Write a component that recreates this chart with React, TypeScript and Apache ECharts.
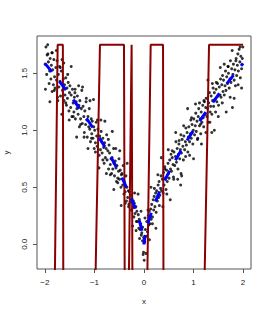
import React, { useEffect, useRef } from "react";
import * as echarts from "echarts";

const xTicks = [-2, -1, 0, 1, 2];
const yTicks = [0, 0.5, 1, 1.5];

// true curve (blue dashed)
const truthX = [-2, -1.9, -1.8, -1.7, -1.6, -1.5, -1.4, -1.3, -1.2, -1.1, -1, -0.9, -0.8, -0.7, -0.6, -0.5, -0.4, -0.3, -0.2, -0.1, -0.05, -0.02, 0, 0.02, 0.05, 0.1, 0.2, 0.3, 0.4, 0.5, 0.6, 0.7, 0.8, 0.9, 1, 1.1, 1.2, 1.3, 1.4, 1.5, 1.6, 1.7, 1.8, 1.9, 2];
const truthY = [1.587, 1.534, 1.48, 1.424, 1.368, 1.31, 1.251, 1.191, 1.129, 1.066, 1.0, 0.932, 0.862, 0.788, 0.711, 0.63, 0.543, 0.448, 0.342, 0.215, 0.136, 0.074, 0, 0.074, 0.136, 0.215, 0.342, 0.448, 0.543, 0.63, 0.711, 0.788, 0.862, 0.932, 1.0, 1.066, 1.129, 1.191, 1.251, 1.31, 1.368, 1.424, 1.48, 1.534, 1.587];

// fitted step curve (dark red)
const fitX = [-2.0, -1.803, -1.743, -1.638, -1.629, -0.984, -0.889, -0.404, -0.389, -0.308, -0.25, -0.233, 0.063, 0.135, 0.384, 0.393, 1.218, 1.313, 2.0];
const fitY = [-0.4, -0.4, 1.75, 1.75, -0.4, -0.4, 1.75, 1.75, -0.4, -0.4, 1.75, -0.4, -0.4, 1.75, 1.75, -0.4, -0.4, 1.75, 1.75];

// observations
const obsX = [
  -1.995, -1.98, -1.965, -1.955, -1.945, -1.93, -1.915, -1.905, -1.895, -1.88, -1.87, -1.855, -1.852,
  -1.845, -1.83, -1.82, -1.805, -1.795, -1.78, -1.765, -1.755, -1.745, -1.73, -1.72, -1.705,
  -1.695, -1.685, -1.67, -1.655, -1.645, -1.63, -1.615, -1.605, -1.595, -1.58, -1.565, -1.555,
  -1.545, -1.53, -1.515, -1.505, -1.495, -1.48, -1.47, -1.455, -1.445, -1.43, -1.415, -1.405,
  -1.395, -1.385, -1.37, -1.355, -1.345, -1.33, -1.315, -1.305, -1.295, -1.28, -1.265, -1.255,
  -1.245, -1.23, -1.215, -1.205, -1.195, -1.18, -1.165, -1.155, -1.145, -1.13, -1.115, -1.105,
  -1.095, -1.08, -1.065, -1.055, -1.045, -1.03, -1.015, -1.005, -0.995, -0.98, -0.965, -0.955,
  -0.945, -0.93, -0.915, -0.905, -0.895, -0.88, -0.865, -0.855, -0.845, -0.83, -0.815, -0.805,
  -0.795, -0.78, -0.765, -0.755, -0.745, -0.73, -0.715, -0.705, -0.695, -0.68, -0.665, -0.655,
  -0.645, -0.63, -0.615, -0.605, -0.595, -0.58, -0.565, -0.555, -0.545, -0.53, -0.515, -0.505,
  -0.495, -0.48, -0.465, -0.455, -0.445, -0.43, -0.415, -0.405, -0.395, -0.38, -0.365, -0.355,
  -0.345, -0.33, -0.315, -0.305, -0.295, -0.28, -0.265, -0.255, -0.245, -0.23, -0.215, -0.205,
  -0.195, -0.18, -0.165, -0.155, -0.145, -0.13, -0.115, -0.105, -0.095, -0.08, -0.065, -0.055,
  -0.045, -0.03, -0.018, -0.008, 0.004, 0.015, 0.028, 0.042,
  0.055, 0.07, 0.085, 0.095, 0.105, 0.12, 0.135, 0.145, 0.155, 0.17, 0.185, 0.195,
  0.205, 0.22, 0.235, 0.245, 0.255, 0.27, 0.285, 0.295, 0.305, 0.32, 0.335, 0.345,
  0.355, 0.37, 0.385, 0.395, 0.405, 0.42, 0.435, 0.445, 0.455, 0.47, 0.485, 0.495,
  0.505, 0.52, 0.535, 0.545, 0.555, 0.57, 0.585, 0.595, 0.605, 0.62, 0.635, 0.645,
  0.655, 0.67, 0.685, 0.695, 0.705, 0.72, 0.735, 0.745, 0.74, 0.748,
  0.755, 0.77, 0.785, 0.795, 0.805, 0.82, 0.835, 0.845, 0.855, 0.87, 0.885, 0.895,
  0.905, 0.92, 0.935, 0.945, 0.955, 0.97, 0.985, 0.995, 1.005, 1.02, 1.035, 1.045,
  1.055, 1.07, 1.085, 1.095, 1.105, 1.12, 1.135, 1.145, 1.155, 1.17, 1.185, 1.195,
  1.205, 1.22, 1.235, 1.245, 1.255, 1.27, 1.285, 1.295, 1.305, 1.32, 1.335, 1.345,
  1.355, 1.37, 1.385, 1.395, 1.405, 1.42, 1.435, 1.445, 1.455, 1.47, 1.485, 1.495,
  1.505, 1.52, 1.535, 1.545, 1.555, 1.57, 1.585, 1.595, 1.605, 1.62, 1.635, 1.645,
  1.655, 1.67, 1.685, 1.695, 1.705, 1.72, 1.735, 1.745, 1.755, 1.77, 1.785, 1.795,
  1.805, 1.82, 1.835, 1.845, 1.855, 1.87, 1.885, 1.895, 1.905, 1.92, 1.935, 1.945,
  1.955, 1.97, 1.985, 1.995, 1.145, 1.368,
  -1.99, -1.94, -1.9, -1.86, -1.81, -1.77, -1.74, -1.69, -1.66, -1.62, -1.58, -1.54, -1.51, -1.47,
  -1.43, -1.39, -1.36, -1.32, -1.28, -1.24, -1.21, -1.17, -1.13, -1.09, -1.06, -1.02, -0.98, -0.94,
  -0.91, -0.87, -0.83, -0.79, -0.76, -0.72, -0.68, -0.64, -0.61, -0.57, -0.53, -0.49, -0.46, -0.42,
  -0.38, -0.34, -0.31, -0.27, -0.23, -0.19, -0.16, -0.12, -0.09, -0.06, -0.03, -0.01,
  0.02, 0.04, 0.08, 0.11, 0.14, 0.17, 0.21, 0.24, 0.28, 0.31, 0.35, 0.38, 0.42, 0.46,
  0.49, 0.53, 0.57, 0.6, 0.64, 0.68, 0.71, 0.76, 0.8, 0.84, 0.88, 0.92, 0.96, 1.0,
  1.04, 1.08, 1.12, 1.16, 1.21, 1.25, 1.29, 1.33, 1.38, 1.42, 1.46, 1.5, 1.54, 1.58,
  1.62, 1.66, 1.7, 1.74, 1.78, 1.82, 1.86, 1.9, 1.94, 1.97,
];
const obsY = [
  1.58, 1.73, 1.49, 1.66, 1.75, 1.6, 1.41, 1.52, 1.63, 1.45, 1.57, 1.34, 1.68,
  1.53, 1.4, 1.62, 1.47, 1.37, 1.55, 1.44, 1.61, 1.29, 1.49, 1.38, 1.56,
  1.43, 1.3, 1.52, 1.62, 1.35, 1.45, 1.26, 1.4, 1.31, 1.46, 1.22, 1.37,
  1.28, 1.42, 1.17, 1.33, 1.39, 1.2, 1.31, 1.12, 1.36, 1.24, 1.16, 1.29,
  1.33, 1.1, 1.25, 1.19, 1.3, 1.14, 1.22, 1.03, 1.26, 1.1, 1.19, 1.35,
  1.06, 1.21, 1.12, 0.98, 1.17, 1.05, 1.28, 1.09, 0.94, 1.12, 1.03, 1.19,
  1.01, 0.9, 1.1, 0.97, 1.08, 0.93, 1.03, 0.84, 1.0, 0.89, 1.07, 0.95,
  0.86, 1.01, 0.92, 0.78, 0.95, 0.83, 0.99, 0.9, 0.8, 0.93, 0.85, 0.71,
  0.89, 0.76, 0.84, 0.96, 0.74, 0.82, 0.66, 0.87, 0.8, 0.7, 0.75, 0.62,
  0.76, 0.66, 0.84, 0.71, 0.6, 0.73, 0.67, 0.55, 0.69, 0.58, 0.64, 0.75,
  0.57, 0.65, 0.5, 0.61, 0.62, 0.52, 0.56, 0.44, 0.55, 0.46, 0.6, 0.38,
  0.5, 0.41, 0.47, 0.35, 0.46, 0.37, 0.43, 0.3, 0.4, 0.32, 0.38, 0.24,
  0.36, 0.27, 0.33, 0.2, 0.29, 0.2, 0.26, 0.14, 0.22, 0.13, 0.18, 0.08,
  0.1, 0.03, -0.09, 0.06, -0.14, 0.02, 0.13, 0.07,
  0.2, 0.11, 0.25, 0.17, 0.29, 0.18, 0.31, 0.22, 0.35, 0.24, 0.39, 0.3,
  0.42, 0.33, 0.45, 0.28, 0.47, 0.38, 0.52, 0.41, 0.55, 0.43, 0.49, 0.6,
  0.47, 0.57, 0.45, 0.63, 0.52, 0.66, 0.58, 0.48, 0.65, 0.55, 0.71, 0.62,
  0.58, 0.74, 0.66, 0.79, 0.64, 0.76, 0.7, 0.59, 0.81, 0.69, 0.77, 0.9,
  0.72, 0.84, 0.66, 0.79, 0.88, 0.75, 0.83, 0.96, 0.52, 0.62,
  0.8, 0.92, 0.86, 0.74, 0.95, 0.83, 0.9, 1.02, 0.87, 0.98, 0.81, 0.94,
  1.03, 0.9, 0.97, 1.09, 0.93, 1.05, 0.88, 1.0, 1.1, 0.96, 1.04, 1.15,
  0.99, 1.08, 0.93, 1.12, 1.19, 1.04, 1.1, 0.97, 1.16, 1.07, 1.22, 1.11,
  1.03, 1.25, 1.14, 1.2, 1.28, 1.12, 1.19, 1.07, 1.24, 1.33, 1.16, 1.21,
  1.3, 1.14, 1.26, 1.37, 1.21, 1.33, 1.27, 1.16, 1.36, 1.25, 1.41, 1.3,
  1.22, 1.38, 1.31, 1.45, 1.29, 1.4, 1.48, 1.34, 1.44, 1.31, 1.39, 1.52,
  1.35, 1.47, 1.41, 1.56, 1.5, 1.37, 1.45, 1.61, 1.42, 1.54, 1.2, 1.49,
  1.58, 1.44, 1.53, 1.39, 1.61, 1.48, 1.57, 1.67, 1.52, 1.71, 1.6, 1.46,
  1.65, 1.54, 1.63, 1.73, 1.055, 0.98,
  1.36, 1.67, 1.25, 1.68, 1.35, 1.7, 1.26, 1.55, 1.14, 1.59, 1.24, 1.49, 1.09, 1.56,
  1.12, 1.36, 0.94, 1.39, 1.05, 1.38, 0.94, 1.25, 0.84, 1.26, 0.93, 1.27, 0.81, 1.09,
  0.67, 1.09, 0.74, 1.08, 0.62, 0.92, 0.61, 0.99, 0.48, 0.84, 0.54, 0.82, 0.34, 0.69,
  0.36, 0.71, 0.33, 0.59, 0.16, 0.45, 0.12, 0.44, 0.05, 0.29, 0.15, -0.07,
  0.23, -0.08, 0.3, 0.04, 0.5, 0.18, 0.49, 0.14, 0.61, 0.34, 0.76, 0.33, 0.68, 0.44,
  0.83, 0.39, 0.82, 0.57, 0.98, 0.57, 0.91, 0.6, 1.04, 0.77, 1.19, 0.78, 1.11, 0.75,
  1.23, 0.92, 1.24, 0.88, 1.26, 0.98, 1.44, 1.07, 1.41, 1.0, 1.42, 1.12, 1.55, 1.24,
  1.58, 1.16, 1.56, 1.29, 1.7, 1.28, 1.63, 1.4, 1.73, 1.37,
];

export default function App() {
  const ref = useRef<HTMLDivElement>(null);
  useEffect(() => {
    if (!ref.current) return;
    const chart = echarts.init(ref.current, undefined, { renderer: "svg" });
    const font = "'Liberation Sans', Arial, sans-serif";
    const minus = (v: number) => String(v).replace("-", "\u2212");
    chart.setOption({
      animation: false,
      backgroundColor: "#ffffff",
      grid: {
        left: 37,
        right: 19,
        top: 36,
        bottom: 46,
        show: true,
        borderColor: "#555",
        borderWidth: 1,
        containLabel: false,
        outerBoundsMode: "none",
      },
      xAxis: {
        type: "value",
        min: -2.16,
        max: 2.16,
        name: "x",
        nameLocation: "middle",
        nameGap: 28,
        nameTextStyle: { fontSize: 8, color: "#222", fontFamily: font },
        axisLine: { show: false, onZero: false },
        splitLine: { show: false },
        axisTick: { show: true, inside: false, length: 4, customValues: xTicks, lineStyle: { color: "#555", width: 1 } },
        axisLabel: {
          customValues: xTicks,
          margin: 9,
          fontSize: 8,
          color: "#222",
          fontFamily: font,
          formatter: (v: number) => minus(v),
        },
      },
      yAxis: {
        type: "value",
        min: -0.217,
        max: 1.827,
        name: "y",
        nameLocation: "middle",
        nameGap: 27,
        nameTextStyle: { fontSize: 8, color: "#222", fontFamily: font },
        axisLine: { show: false, onZero: false },
        splitLine: { show: false },
        axisTick: { show: true, inside: false, length: 4, customValues: yTicks, lineStyle: { color: "#555", width: 1 } },
        axisLabel: {
          customValues: yTicks,
          rotate: 90,
          margin: 9,
          fontSize: 8,
          color: "#222",
          fontFamily: font,
          formatter: (v: number) => v.toFixed(1),
        },
      },
      series: [
        {
          type: "scatter",
          data: obsX.map((x, i) => [x, obsY[i]]),
          symbolSize: 3,
          itemStyle: { color: "#000" },
          z: 1,
        },
        {
          type: "line",
          data: fitX.map((x, i) => [x, fitY[i]]),
          symbol: "none",
          lineStyle: { color: "#8B0000", width: 2 },
          clip: true,
          z: 2,
        },
        {
          type: "line",
          data: truthX.map((x, i) => [x, truthY[i]]),
          symbol: "none",
          lineStyle: { color: "#0000FF", width: 3, type: [11, 12] },
          clip: true,
          z: 3,
        },
      ],
    });
    return () => chart.dispose();
  }, []);
  return <div ref={ref} style={{ position: "absolute", left: 0, top: 0, width: 270, height: 315 }} />;
}
